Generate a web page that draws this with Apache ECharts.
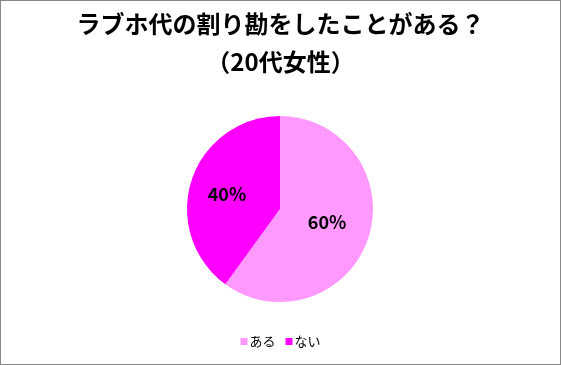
<!DOCTYPE html>
<html><head><meta charset="utf-8">
<script src="https://cdn.jsdelivr.net/npm/echarts@6/dist/echarts.min.js"></script>
<style>
html,body{margin:0;padding:0;background:#fff;}
#c{width:559px;height:363px;border:1px solid #888;}
</style></head>
<body><div id="c"></div>
<script>
const titleLine1 = 'ラブホ代の割り勘をしたことがある？';
const titleLine2 = '（20代女性）';
const categories = ['ある', 'ない'];
const values = [60, 40];
const colors = ['#FF99FF', '#FF00FF'];

const chart = echarts.init(document.getElementById('c'));
const font = '"Noto Sans CJK JP", "Noto Sans", sans-serif';
chart.setOption({
  animation: false,
  title: {
    text: titleLine1 + '\n' + titleLine2,
    left: 'center', top: 4, padding: 0,
    textStyle: {fontFamily: font, fontSize: 24, fontWeight: 'bold', color: '#000', lineHeight: 38}
  },
  legend: {
    data: categories,
    bottom: 11, left: 'center',
    itemWidth: 7, itemHeight: 7, itemGap: 10,
    icon: 'rect',
    textStyle: {fontFamily: font, fontSize: 13, color: '#000', padding: [0,0,0,-3]}
  },
  series: [{
    type: 'pie',
    center: [279, 208],
    radius: [0, 93],
    startAngle: 90,
    clockwise: true,
    data: categories.map((n, i) => ({
      name: n, value: values[i], itemStyle: {color: colors[i]},
      label: i === 1 ? {offset: [-6, 0]} : {offset: [0, -2]}
    })),
    label: {
      position: 'inside',
      formatter: p => p.value + '%',
      fontFamily: font, fontSize: 18, fontWeight: 'bold', color: '#000'
    },
    labelLine: {show: false},
    emphasis: {disabled: true}
  }]
});
</script></body></html>
